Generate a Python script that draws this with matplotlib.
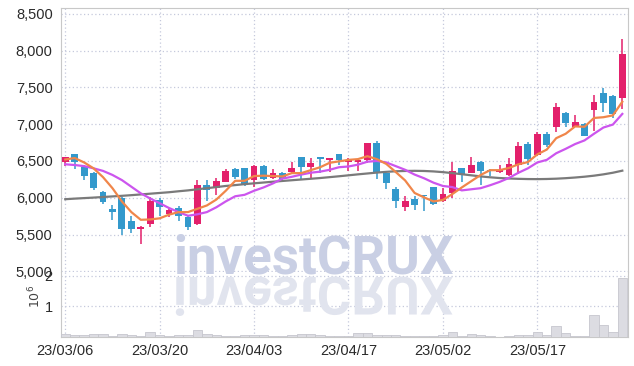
import matplotlib.pyplot as plt
import numpy as np
from matplotlib.textpath import TextPath
from matplotlib.patches import PathPatch
from matplotlib.font_manager import FontProperties
from matplotlib.transforms import Affine2D, IdentityTransform

plt.rcParams['font.family'] = ['Liberation Sans Narrow', 'Liberation Sans', 'DejaVu Sans']

dates = ['23/03/06', '23/03/20', '23/04/03', '23/04/17', '23/05/02', '23/05/17']
date_pos = [0, 10, 20, 30, 40, 50]

opens = [6490, 6590, 6420, 6335, 6080, 5845, 6000, 5685, 5580, 5640,
         5970, 5780, 5865, 5740, 5640, 6180, 6130, 6220, 6395, 6405,
         6240, 6430, 6265, 6330, 6345, 6550, 6420, 6540, 6515, 6595,
         6490, 6490, 6520, 6750, 6335, 6115, 5875, 5980, 6035, 6145,
         5950, 6065, 6400, 6340, 6485, 6375, 6345, 6315, 6450, 6730,
         6585, 6865, 6965, 7150, 6965, 7000, 7190, 7430, 7385, 7350]
highs = [6560, 6600, 6440, 6350, 6090, 5900, 6015, 5755, 5610, 6015,
         6000, 5865, 5890, 5750, 6240, 6240, 6275, 6390, 6410, 6410,
         6445, 6445, 6390, 6355, 6480, 6555, 6545, 6545, 6545, 6600,
         6535, 6525, 6750, 6770, 6340, 6145, 6025, 6025, 6040, 6150,
         6130, 6490, 6410, 6550, 6500, 6390, 6440, 6540, 6755, 6755,
         6900, 6900, 7295, 7160, 7125, 7010, 7400, 7495, 7400, 8160]
lows = [6430, 6390, 6240, 6110, 5920, 5700, 5500, 5515, 5365, 5605,
        5755, 5740, 5685, 5560, 5625, 5955, 6035, 6210, 6255, 6160,
        6150, 6240, 6255, 6230, 6330, 6250, 6250, 6330, 6355, 6445,
        6370, 6370, 6470, 6250, 6115, 5860, 5815, 5840, 5820, 5905,
        5945, 6000, 6220, 6335, 6175, 6290, 6330, 6300, 6325, 6450,
        6570, 6685, 6890, 6965, 6960, 6840, 6910, 7160, 7090, 7200]
closes = [6550, 6480, 6290, 6130, 5945, 5800, 5575, 5575, 5605, 5955,
          5880, 5835, 5755, 5605, 6180, 6100, 6230, 6365, 6280, 6180,
          6430, 6255, 6330, 6255, 6410, 6415, 6475, 6530, 6535, 6520,
          6520, 6515, 6740, 6335, 6200, 5950, 5950, 5895, 6025, 5920,
          6055, 6365, 6325, 6450, 6365, 6360, 6380, 6460, 6705, 6530,
          6865, 6720, 7235, 7010, 7025, 6845, 7305, 7285, 7135, 7960]

ma_short = [6520, 6540, 6480, 6400, 6280, 6130, 5950, 5805, 5700, 5705,
            5720, 5770, 5805, 5805, 5850, 5895, 5975, 6095, 6230, 6230,
            6295, 6300, 6295, 6290, 6335, 6335, 6375, 6415, 6475, 6495,
            6515, 6525, 6565, 6525, 6460, 6350, 6235, 6065, 6005, 5950,
            5970, 6050, 6140, 6225, 6310, 6375, 6375, 6405, 6455, 6485,
            6590, 6655, 6810, 6870, 6970, 6965, 7085, 7095, 7120, 7305]
ma_mid = [6455, 6445, 6430, 6400, 6365, 6310, 6240, 6150, 6060, 5990,
          5925, 5860, 5805, 5755, 5775, 5805, 5870, 5950, 6020, 6040,
          6095, 6140, 6195, 6260, 6285, 6315, 6340, 6355, 6380, 6415,
          6425, 6450, 6490, 6500, 6480, 6430, 6380, 6315, 6265, 6205,
          6160, 6145, 6100, 6115, 6130, 6170, 6215, 6270, 6340, 6400,
          6480, 6515, 6605, 6665, 6730, 6780, 6870, 6955, 6995, 7140]
ma_long = [5980, 5988, 5995, 6002, 6010, 6018, 6026, 6035, 6045, 6055,
           6065, 6075, 6088, 6100, 6115, 6130, 6145, 6160, 6172, 6185,
           6196, 6207, 6218, 6228, 6238, 6248, 6258, 6268, 6280, 6292,
           6305, 6318, 6330, 6342, 6352, 6360, 6364, 6366, 6364, 6358,
           6348, 6335, 6320, 6305, 6290, 6278, 6268, 6262, 6257, 6254,
           6253, 6255, 6259, 6266, 6275, 6286, 6300, 6318, 6340, 6368]

volume = [0.09, 0.05, 0.05, 0.09, 0.09, 0.045, 0.09, 0.05, 0.03, 0.15,
          0.07, 0.03, 0.05, 0.05, 0.22, 0.09, 0.06, 0.03, 0.03, 0.05,
          0.05, 0.05, 0.03, 0.03, 0.05, 0.11, 0.09, 0.055, 0.04, 0.03,
          0.04, 0.13, 0.13, 0.065, 0.065, 0.065, 0.03, 0.03, 0.03, 0.04,
          0.08, 0.16, 0.04, 0.10, 0.065, 0.03, 0.01, 0.02, 0.08, 0.055,
          0.16, 0.055, 0.35, 0.13, 0.03, 0.03, 0.73, 0.39, 0.16, 1.93]

up_color = '#e3206b'
down_color = '#3399cc'
grid_color = '#c5c9dc'
spine_color = '#c8c8c8'
label_color = '#2a2a2a'

fig = plt.figure(figsize=(6.34, 3.66), dpi=100)
ax = fig.add_axes([0.0962, 0.2568, 0.8943, 0.7213])
axv = fig.add_axes([0.0962, 0.0792, 0.8943, 0.1776], sharex=ax)
axv.patch.set_alpha(0)

x = np.arange(len(closes))
o = np.array(opens)
c = np.array(closes)
colors = [up_color if cc >= oo else down_color for oo, cc in zip(o, c)]
body_bottom = np.minimum(o, c)
body_height = np.maximum(np.abs(c - o), 18)

ax.vlines(x, lows, highs, colors=colors, linewidth=1.1, zorder=3)
ax.bar(x, body_height, bottom=body_bottom, width=0.72, color=colors, zorder=4)

ax.plot(x, ma_long, color='#7a7a7a', linewidth=1.6, zorder=5)
ax.plot(x, ma_mid, color='#cc55ee', linewidth=1.6, zorder=5)
ax.plot(x, ma_short, color='#f0864a', linewidth=1.6, zorder=6)

ax.set_xlim(-0.45, 59.6)
ax.set_ylim(4990, 8580)
ax.set_yticks([5000, 5500, 6000, 6500, 7000, 7500, 8000, 8500])
ax.set_yticklabels(['5,000', '5,500', '6,000', '6,500', '7,000', '7,500', '8,000', '8,500'])
ax.set_xticks(date_pos)
ax.tick_params(axis='x', labelbottom=False, length=0)
ax.tick_params(axis='y', length=0, labelsize=10.5, colors=label_color, pad=6)
ax.grid(True, linestyle=(0, (1, 2)), color=grid_color, linewidth=0.9, zorder=0)
ax.set_axisbelow(True)
for side in ['top', 'right', 'left']:
    ax.spines[side].set_color(spine_color)
ax.spines['bottom'].set_visible(False)

axv.bar(x, volume, width=1.0, color='#dcdce2', edgecolor='#c6c6ce', linewidth=0.6, zorder=3)
axv.set_ylim(0, 2.13)
axv.set_yticks([1, 2])
axv.set_yticklabels(['1', '2'])
axv.set_xticks(date_pos)
axv.set_xticklabels(dates)
axv.tick_params(axis='x', length=0, labelsize=10.5, colors=label_color, pad=5)
axv.tick_params(axis='y', length=0, labelsize=10.5, colors=label_color, pad=6)
axv.grid(True, linestyle=(0, (1, 2)), color=grid_color, linewidth=0.9, zorder=0)
axv.set_axisbelow(True)
axv.spines['top'].set_visible(False)
for side in ['right', 'left', 'bottom']:
    axv.spines[side].set_color(spine_color)
fig.text(0.055, 0.19, r'$10^6$', rotation=90, fontsize=9, color='#444444',
         ha='center', va='center')

# watermark and its mirrored reflection
wm_font = FontProperties(family='Roboto', weight='bold')
fig.text(173 / 634, 1 - 273 / 366, 'investCRUX', fontproperties=wm_font,
         fontsize=38, color='#c9cfe4', ha='left', va='baseline', zorder=1)
tp = TextPath((0, 0), 'investCRUX', size=38 * 100 / 72, prop=wm_font)
flip = Affine2D().scale(1, -1).translate(173, 366 - 277)
fig.add_artist(PathPatch(tp, transform=flip + IdentityTransform(),
                         facecolor='#e1e4ee', edgecolor='none', zorder=0.5))

fig.savefig('out.png', dpi=100)
